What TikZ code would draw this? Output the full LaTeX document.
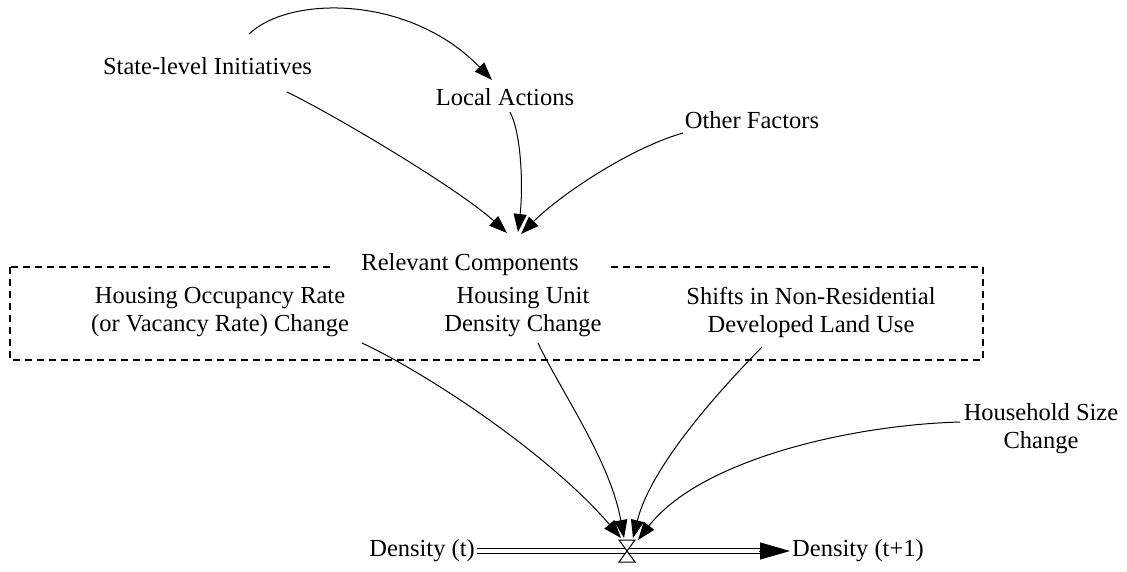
\documentclass[tikz,border=0pt]{standalone}
\usepackage{fontspec}
\setmainfont{Liberation Serif}
\usetikzlibrary{arrows.meta,calc}
\begin{document}
\begin{tikzpicture}[x=1pt,y=-1pt,
  lbl/.style={font=\fontsize{24.5}{28}\selectfont, align=center, inner sep=2pt},
  link/.style={line width=1pt, -{Triangle[length=18pt,width=13pt]}},
  pipe/.style={double=white, double distance=4.5pt, line width=1.2pt},
  groupbox/.style={dash pattern=on 7pt off 5pt, line width=1.5pt}]
\useasboundingbox (0,0) rectangle (1127,571);
% group box
\draw[groupbox] (10,267) rectangle (983,360);
\node[lbl, fill=white, inner xsep=30pt] (rc) at (470,265) {Relevant Components};
% nodes
\node[lbl] (sli) at (207.5,66) {State-level Initiatives};
\node[lbl] (la) at (505,97) {Local Actions};
\node[lbl] (of) at (752,120) {Other Factors};
\node[lbl] (hor) at (220,312) {Housing Occupancy Rate\\(or Vacancy Rate) Change};
\node[lbl] (hud) at (523,312) {Housing Unit\\Density Change};
\node[lbl] (shf) at (811,312) {Shifts in Non-Residential\\Developed Land Use};
\node[lbl] (hhs) at (1041,429) {Household Size\\Change};
\node[lbl, anchor=east] (dt) at (477,551) {Density (t)};
\node[lbl, anchor=west] (dt1) at (790,551) {Density (t+1)};
% pipe
\coordinate (valve) at (627,550);
\draw[pipe] (dt.east) -- ($(dt1.west)+(-29,0)$);
\draw[line width=1pt, -{Triangle[length=30pt,width=17pt]}] ($(dt1.west)+(-31,0)$) -- (dt1.west);
\draw[line width=1pt, fill=white] ($(valve)+(-8,-10)$) -- ($(valve)+(8,-10)$) -- ($(valve)+(-8,12)$) -- ($(valve)+(8,12)$) -- cycle;
% connectors
\draw[link] ($(sli)+(41.5,-32)$) .. controls (290,-5) and (410,-5) .. ($(la)+(-13,-17)$);
\draw[link] ($(sli)+(79.5,26)$) .. controls (340,118) and (460,190) .. ($(rc)+(37,-32)$);
\draw[link] ($(la)+(5,15)$) .. controls (522,135) and (523,190) .. ($(rc)+(48,-33)$);
\draw[link] ($(of)+(-69,13)$) .. controls (630,148) and (560,195) .. ($(rc)+(51,-31)$);
\draw[link] ($(hor)+(142,31)$) .. controls (430,375) and (550,455) .. ($(valve)+(-6,-12)$);
\draw[link] ($(hud)+(15,31)$) .. controls (560,390) and (610,460) .. ($(valve)+(-3,-12)$);
\draw[link] ($(shf)+(-49,35)$) .. controls (710,400) and (650,470) .. ($(valve)+(6,-12)$);
\draw[link] ($(hhs)+(-81,-7)$) .. controls (850,425) and (700,460) .. ($(valve)+(11,-10)$);
\end{tikzpicture}
\end{document}
